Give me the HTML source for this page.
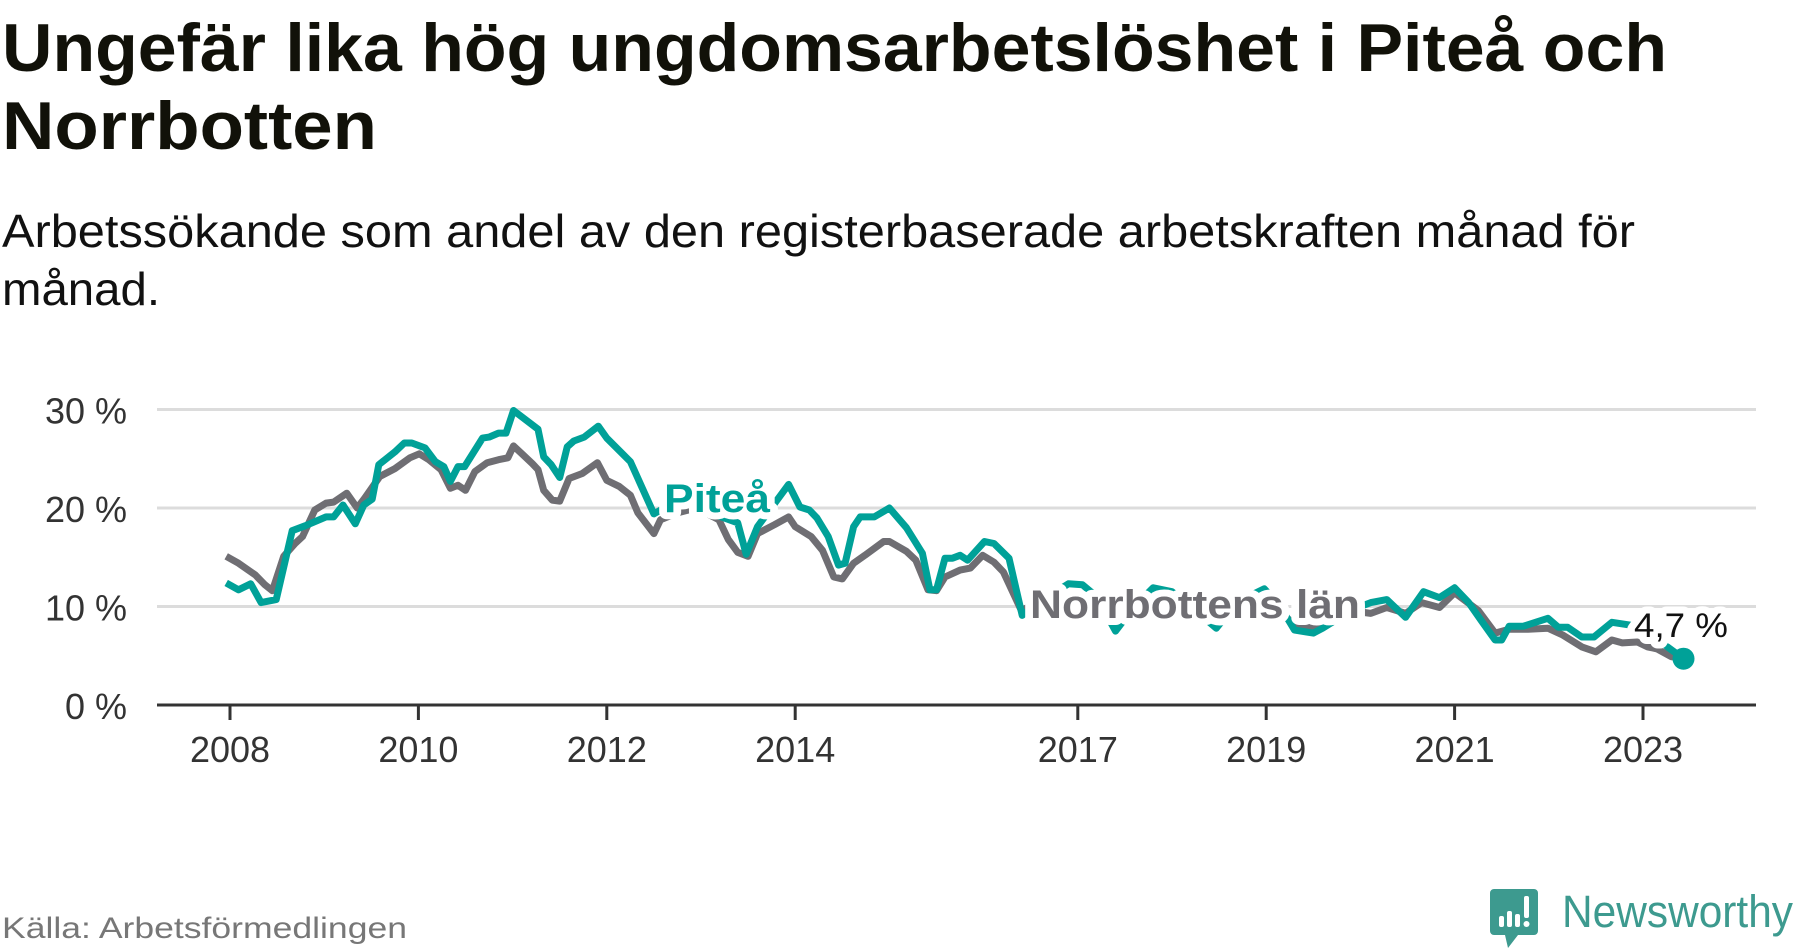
<!DOCTYPE html>
<html lang="sv">
<head>
<meta charset="utf-8">
<title>Ungefär lika hög ungdomsarbetslöshet i Piteå och Norrbotten</title>
<style>
  html,body{margin:0;padding:0;background:#fff;}
  body{width:1800px;height:948px;overflow:hidden;}
  svg{display:block;font-family:"Liberation Sans","DejaVu Sans",sans-serif;}
</style>
</head>
<body>
<svg id="chart" width="1800" height="948" viewBox="0 0 1800 948" xmlns="http://www.w3.org/2000/svg">
  <text x="2" y="71" font-size="68" font-weight="bold" fill="#111109" textLength="1665" lengthAdjust="spacingAndGlyphs">Ungefär lika hög ungdomsarbetslöshet i Piteå och</text>
  <text x="2" y="149" font-size="68" font-weight="bold" fill="#111109" textLength="375" lengthAdjust="spacingAndGlyphs">Norrbotten</text>
  <text x="2" y="247" font-size="46" fill="#111" textLength="1633" lengthAdjust="spacingAndGlyphs">Arbetssökande som andel av den registerbaserade arbetskraften månad för</text>
  <text x="2" y="305" font-size="46" fill="#111" textLength="158" lengthAdjust="spacingAndGlyphs">månad.</text>

  <g id="grid"></g>
  <g id="yaxis"></g>
  <g id="xaxis"></g>
  <g id="series"></g>
  <g id="labels"></g>

  <text x="2" y="938" font-size="30" fill="#777" textLength="405" lengthAdjust="spacingAndGlyphs">Källa: Arbetsförmedlingen</text>
  <g>
    <path d="M1494 889 h40 a4 4 0 0 1 4 4 v38 a4 4 0 0 1 -4 4 h-16 l-10 13 l-3 -13 h-11 a4 4 0 0 1 -4 -4 v-38 a4 4 0 0 1 4 -4z" fill="#3d9a8f"/>
    <rect x="1499" y="916" width="5" height="11" rx="2" fill="#fff"/>
    <rect x="1507" y="911" width="5" height="16" rx="2" fill="#fff"/>
    <rect x="1515" y="914" width="5" height="13" rx="2" fill="#fff"/>
    <rect x="1524" y="896" width="5" height="22" rx="2" fill="#fff"/>
    <circle cx="1526.5" cy="924" r="3" fill="#fff"/>
    <text x="1562" y="927" font-size="45" fill="#3d9a8f" textLength="231" lengthAdjust="spacingAndGlyphs">Newsworthy</text>
  </g>
</svg>
<script>
// ---- data ----
const yTicks = [0, 10, 20, 30];
const yTickLabels = ["0 %", "10 %", "20 %", "30 %"];
const xTicks = [2008, 2010, 2012, 2014, 2017, 2019, 2021, 2023];
const xTickLabels = ["2008", "2010", "2012", "2014", "2017", "2019", "2021", "2023"];

const piteaDates = [2007.96,2008.09,2008.22,2008.33,2008.49,2008.66,2008.8,2009.02,2009.1,2009.2,2009.33,2009.42,2009.51,2009.58,2009.75,2009.85,2009.93,2010.07,2010.18,2010.27,2010.34,2010.42,2010.49,2010.68,2010.75,2010.85,2010.93,2011.01,2011.27,2011.33,2011.41,2011.5,2011.58,2011.65,2011.76,2011.91,2012.0,2012.25,2012.5,2012.7,2012.9,2013.1,2013.39,2013.48,2013.6,2013.93,2014.05,2014.15,2014.23,2014.35,2014.46,2014.53,2014.62,2014.69,2014.84,2015.0,2015.18,2015.35,2015.43,2015.5,2015.59,2015.67,2015.75,2015.83,2016.01,2016.11,2016.27,2016.41,2016.6,2016.9,2017.05,2017.2,2017.4,2017.6,2017.8,2018.0,2018.2,2018.47,2018.7,2018.98,2019.15,2019.3,2019.5,2019.6,2019.8,2020.0,2020.11,2020.28,2020.48,2020.67,2020.84,2021.0,2021.15,2021.28,2021.43,2021.5,2021.58,2021.73,2021.99,2022.1,2022.2,2022.35,2022.48,2022.67,2022.87,2023.05,2023.26,2023.43];
const piteaValues = [12.4,11.7,12.3,10.4,10.7,17.7,18.2,19.1,19.1,20.3,18.4,20.3,20.9,24.4,25.7,26.6,26.6,26.1,24.7,24.2,22.7,24.2,24.2,27.1,27.2,27.6,27.6,29.9,28.0,25.2,24.4,23.1,26.2,26.8,27.2,28.3,27.1,24.7,19.4,20.5,21.0,19.5,18.5,15.3,18.1,22.4,20.1,19.8,19.0,17.1,14.2,14.4,18.1,19.1,19.1,20.0,18.0,15.4,11.7,11.7,14.9,14.9,15.2,14.7,16.6,16.4,14.9,9.1,10.5,12.3,12.2,11.0,7.5,10.0,11.9,11.5,10.0,7.8,10.5,11.8,10.0,7.6,7.3,7.8,9.0,10.0,10.4,10.7,8.9,11.5,10.9,11.9,10.4,8.6,6.6,6.6,8.0,8.0,8.8,7.9,7.9,6.9,6.9,8.4,8.1,7.6,5.9,4.7];

const norrDates = [2007.96,2008.09,2008.27,2008.37,2008.45,2008.57,2008.69,2008.77,2008.9,2009.02,2009.1,2009.24,2009.35,2009.43,2009.59,2009.75,2009.91,2010.01,2010.11,2010.24,2010.34,2010.42,2010.5,2010.6,2010.73,2010.85,2010.95,2011.01,2011.11,2011.21,2011.27,2011.33,2011.42,2011.5,2011.6,2011.74,2011.9,2012.0,2012.13,2012.25,2012.33,2012.5,2012.57,2012.75,2012.95,2013.19,2013.29,2013.39,2013.5,2013.6,2013.78,2013.93,2014.0,2014.17,2014.29,2014.41,2014.5,2014.62,2014.74,2014.94,2015.0,2015.18,2015.28,2015.41,2015.5,2015.59,2015.75,2015.86,2015.99,2016.11,2016.21,2016.4,2016.6,2016.9,2017.1,2017.4,2017.7,2017.9,2018.2,2018.45,2018.7,2018.95,2019.3,2019.5,2019.7,2019.95,2020.11,2020.28,2020.48,2020.65,2020.84,2021.0,2021.25,2021.43,2021.58,2021.78,2021.99,2022.15,2022.35,2022.5,2022.67,2022.78,2022.94,2023.05,2023.15,2023.3,2023.43];
const norrValues = [15.1,14.4,13.2,12.2,11.6,15.1,16.4,17.1,19.8,20.5,20.6,21.5,20.0,21.0,23.2,24.0,25.1,25.5,24.9,23.9,22.0,22.3,21.8,23.7,24.6,24.9,25.1,26.3,25.4,24.5,23.9,21.8,20.8,20.7,23.0,23.5,24.6,22.8,22.2,21.3,19.5,17.4,18.8,19.5,20.0,18.8,16.8,15.5,15.1,17.4,18.3,19.1,18.1,17.1,15.7,13.0,12.8,14.4,15.2,16.6,16.6,15.6,14.7,11.7,11.6,13.0,13.7,13.9,15.2,14.5,13.5,9.6,10.5,11.0,10.8,8.5,10.5,10.2,9.8,8.2,10.0,10.5,8.3,7.8,8.8,9.5,9.3,9.9,9.3,10.4,9.9,11.4,9.6,7.3,7.7,7.7,7.8,7.1,5.9,5.4,6.6,6.3,6.4,5.9,5.7,4.9,4.8];

// ---- scales ----
const X0 = 230, PX_PER_YEAR = 94.2;
const Y0 = 705, PX_PER_UNIT = 9.85;
const plotLeft = 157, plotRight = 1756;
function xScale(year){ return X0 + (year - 2008) * PX_PER_YEAR; }
function yScale(v){ return Y0 - v * PX_PER_UNIT; }

const NS = "http://www.w3.org/2000/svg";
function mk(tag, parent){ const e = document.createElementNS(NS, tag); parent.appendChild(e); return e; }

const grid = document.getElementById('grid');
const yaxis = document.getElementById('yaxis');
const xaxis = document.getElementById('xaxis');
const series = document.getElementById('series');
const labels = document.getElementById('labels');

yTicks.forEach((t, i) => {
  if (t !== 0) {
    const l = mk('line', grid);
    
    
    l.setAttribute('x1', plotLeft); l.setAttribute('x2', plotRight);
    l.setAttribute('y1', yScale(t)); l.setAttribute('y2', yScale(t));
    l.setAttribute('stroke', '#dcdcdc'); l.setAttribute('stroke-width', '3');
  }
  const tx = mk('text', yaxis);
  
  
  tx.setAttribute('x', 127); tx.setAttribute('y', yScale(t) + 14);
  tx.setAttribute('text-anchor', 'end'); tx.setAttribute('font-size', '36');
  tx.setAttribute('fill', '#333');
  tx.textContent = yTickLabels[i];
});

const axisLine = mk('line', xaxis);


axisLine.setAttribute('x1', plotLeft); axisLine.setAttribute('x2', plotRight);
axisLine.setAttribute('y1', Y0); axisLine.setAttribute('y2', Y0);
axisLine.setAttribute('stroke', '#333'); axisLine.setAttribute('stroke-width', '3');

xTicks.forEach((yr, i) => {
  const tk = mk('line', xaxis);
  
  
  tk.setAttribute('x1', xScale(yr)); tk.setAttribute('x2', xScale(yr));
  tk.setAttribute('y1', Y0); tk.setAttribute('y2', Y0 + 15);
  tk.setAttribute('stroke', '#333'); tk.setAttribute('stroke-width', '3');
  const tx = mk('text', xaxis);
  
  
  tx.setAttribute('x', xScale(yr)); tx.setAttribute('y', 762);
  tx.setAttribute('text-anchor', 'middle'); tx.setAttribute('font-size', '36');
  tx.setAttribute('fill', '#333');
  tx.textContent = xTickLabels[i];
});

function pathFor(dates, vals){
  return dates.map((d, i) => (i ? 'L' : 'M') + xScale(d).toFixed(1) + ' ' + yScale(vals[i]).toFixed(1)).join(' ');
}

const norrPath = mk('path', series);


norrPath.setAttribute('d', pathFor(norrDates, norrValues));
norrPath.setAttribute('fill', 'none'); norrPath.setAttribute('stroke', '#6f6e73');
norrPath.setAttribute('stroke-width', '7'); norrPath.setAttribute('stroke-linejoin', 'round');

const pitPath = mk('path', series);


pitPath.setAttribute('d', pathFor(piteaDates, piteaValues));
pitPath.setAttribute('fill', 'none'); pitPath.setAttribute('stroke', '#00a198');
pitPath.setAttribute('stroke-width', '7'); pitPath.setAttribute('stroke-linejoin', 'round');

const lastI = piteaDates.length - 1;
const dot = mk('circle', series);


dot.setAttribute('cx', xScale(piteaDates[lastI])); dot.setAttribute('cy', yScale(piteaValues[lastI]));
dot.setAttribute('r', '11'); dot.setAttribute('fill', '#00a198');

function haloText(txt, x, y, size, weight, color, name, len){
  const t = mk('text', labels);
  
  
  t.setAttribute('x', x); t.setAttribute('y', y);
  t.setAttribute('font-size', size); t.setAttribute('font-weight', weight);
  t.setAttribute('fill', color); t.setAttribute('stroke', '#fff');
  t.setAttribute('stroke-width', '14'); t.setAttribute('stroke-linejoin', 'round');
  t.setAttribute('paint-order', 'stroke');
  t.setAttribute('textLength', len); t.setAttribute('lengthAdjust', 'spacingAndGlyphs');
  t.textContent = txt;
}
haloText('Piteå', 664, 512, 40, 'bold', '#00a198', 'pitea-label', 106);
haloText('Norrbottens län', 1030, 618, 40, 'bold', '#6f6e73', 'norrbotten-label', 330);
haloText(piteaValues[lastI].toString().replace('.', ',') + ' %', 1634, 637, 34, 'normal', '#111', 'last-value-label', 94);
</script>
</body>
</html>
